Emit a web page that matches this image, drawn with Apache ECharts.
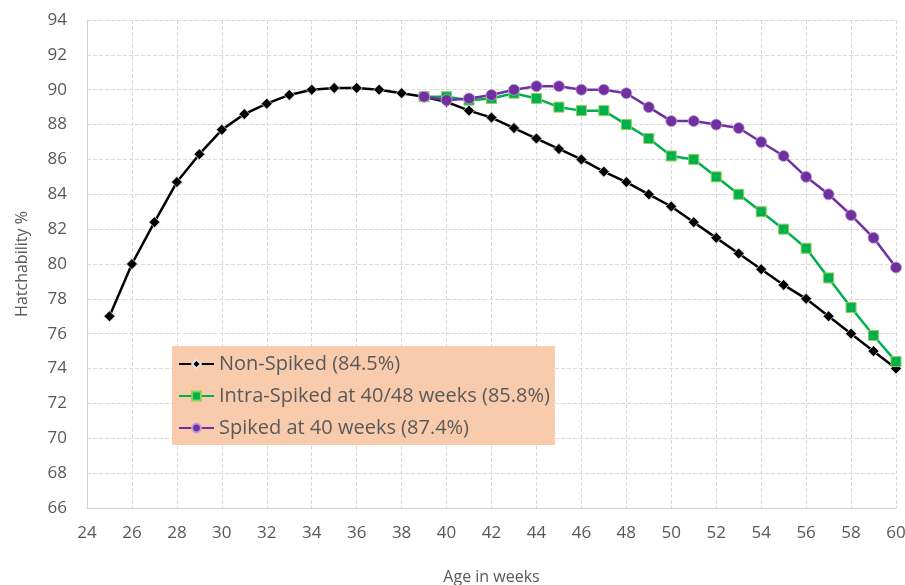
<!DOCTYPE html>
<html>
<head>
<meta charset="utf-8">
<script src="https://cdn.jsdelivr.net/npm/echarts@6/dist/echarts.min.js"></script>
<style>html,body{margin:0;padding:0;background:#fff}#c{width:905px;height:585px}</style>
</head>
<body>
<div id="c"></div>
<script>
const weeksNon = [25,26,27,28,29,30,31,32,33,34,35,36,37,38,39,40,41,42,43,44,45,46,47,48,49,50,51,52,53,54,55,56,57,58,59,60];
const nonSpiked = [77.0,80.0,82.4,84.7,86.3,87.7,88.6,89.2,89.7,90.0,90.1,90.1,90.0,89.8,89.6,89.3,88.8,88.4,87.8,87.2,86.6,86.0,85.3,84.7,84.0,83.3,82.4,81.5,80.6,79.7,78.8,78.0,77.0,76.0,75.0,74.0];
const weeksSpiked = [39,40,41,42,43,44,45,46,47,48,49,50,51,52,53,54,55,56,57,58,59,60];
const intraSpiked = [89.6,89.6,89.4,89.5,89.8,89.5,89.0,88.8,88.8,88.0,87.2,86.2,86.0,85.0,84.0,83.0,82.0,80.9,79.2,77.5,75.9,74.4];
const spiked40 = [89.6,89.4,89.5,89.7,90.0,90.2,90.2,90.0,90.0,89.8,89.0,88.2,88.2,88.0,87.8,87.0,86.2,85.0,84.0,82.8,81.5,79.8];
const seriesNames = ['Non-Spiked (84.5%)','Intra-Spiked at 40/48 weeks (85.8%)','Spiked at 40 weeks (87.4%)'];
const xName = 'Age in weeks';
const yName = 'Hatchability %';

const pairs = (xs, ys) => xs.map((x, i) => [x, ys[i]]);
const font = '"Open Sans", "Noto Sans", sans-serif';
const chart = echarts.init(document.getElementById('c'));
chart.setOption({
  animation: false,
  grid: {left: 87, right: 9, top: 20, bottom: 77, containLabel: false, outerBoundsMode: 'none'},
  legend: {
    orient: 'vertical', left: 172, top: 346,
    backgroundColor: '#F8CBAD',
    padding: [8, 5, 7, 6],
    itemGap: 12, itemWidth: 35, itemHeight: 11,
    textStyle: {fontFamily: font, fontSize: 20, color: '#595959'},
    data: seriesNames
  },
  xAxis: {
    type: 'value', min: 24, max: 60, interval: 2,
    name: xName, nameLocation: 'middle', nameGap: 61,
    nameTextStyle: {fontFamily: font, fontSize: 16, color: '#595959'},
    axisLine: {show: true, lineStyle: {color: '#D0D0D0', width: 1}},
    axisTick: {show: false},
    axisLabel: {fontFamily: font, fontSize: 17, color: '#595959', margin: 17},
    splitLine: {show: true, lineStyle: {color: '#D9D9D9', type: 'dashed'}}
  },
  yAxis: {
    type: 'value', min: 66, max: 94, interval: 2,
    name: yName, nameLocation: 'middle', nameGap: 57,
    nameTextStyle: {fontFamily: font, fontSize: 16, color: '#595959'},
    axisLine: {show: true, lineStyle: {color: '#D0D0D0', width: 1}},
    axisTick: {show: false},
    axisLabel: {fontFamily: font, fontSize: 17, color: '#595959', margin: 20},
    splitLine: {show: true, lineStyle: {color: '#D9D9D9', type: 'dashed'}}
  },
  series: [
    {
      name: seriesNames[0], type: 'line', data: pairs(weeksNon, nonSpiked),
      symbol: 'diamond', symbolSize: 11,
      lineStyle: {color: '#000000', width: 2.5},
      itemStyle: {color: '#000000', borderColor: '#E0E0E0', borderWidth: 0.8}
    },
    {
      name: seriesNames[1], type: 'line', data: pairs(weeksSpiked, intraSpiked),
      symbol: 'rect', symbolSize: 10,
      lineStyle: {color: '#00B050', width: 2.5},
      itemStyle: {color: '#00B050', borderColor: '#92D050', borderWidth: 1}
    },
    {
      name: seriesNames[2], type: 'line', data: pairs(weeksSpiked, spiked40),
      symbol: 'circle', symbolSize: 11,
      lineStyle: {color: '#7030A0', width: 2.5},
      itemStyle: {color: '#7030A0', borderColor: '#C0A0D8', borderWidth: 0.8}
    }
  ]
});
</script>
</body>
</html>
